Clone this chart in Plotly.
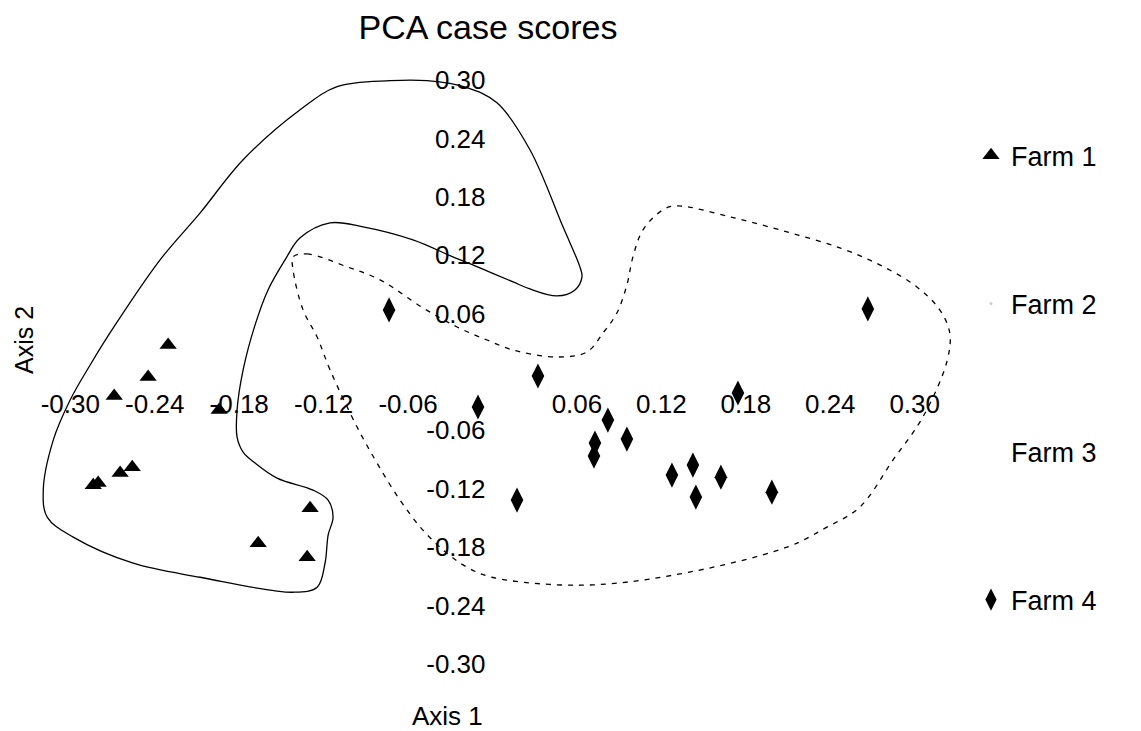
import plotly.graph_objects as go

# ---- data (PCA case scores) ----
farm1_x = [-0.2305, -0.2447, -0.2688, -0.1942, -0.2837, -0.2802, -0.2646, -0.2560, -0.1296, -0.1665, -0.1317]
farm1_y = [0.0278, -0.0051, -0.0247, -0.0391, -0.1163, -0.1142, -0.1039, -0.0978, -0.1400, -0.1760, -0.1904]

farm4_x = [-0.0735, -0.0103, 0.0323, 0.0820, 0.0728, 0.0721, 0.0955, 0.1275, 0.1424, 0.1445, 0.1623, 0.1985, 0.0174, 0.1744, 0.2667]
farm4_y = [0.0638, -0.0360, -0.0041, -0.0494, -0.0731, -0.0864, -0.0690, -0.1060, -0.0957, -0.1286, -0.1081, -0.1235, -0.1317, -0.0216, 0.0648]

# hand-drawn group outlines (axis units)
solid_x = [-0.1154, -0.1367, -0.1474, -0.1595, -0.1687, -0.1772, -0.1815, -0.1815, -0.1772, -0.1687, -0.1531,
           -0.1275, -0.1168, -0.1133, -0.1168, -0.1190, -0.1246, -0.1417, -0.2077, -0.2553, -0.2979, -0.3164,
           -0.3192, -0.3121, -0.3001, -0.2859, -0.2695, -0.2362, -0.2077, -0.1772, -0.1367, -0.1104, -0.0728,
           -0.0465, -0.0181, 0.0032, 0.0266, 0.0501, 0.0621, 0.0636, 0.0586, 0.0458, 0.0266, 0.0146, -0.0089,
           -0.0281, -0.0565, -0.0920, -0.1154]
solid_y = [0.1533, 0.1379, 0.1153, 0.0844, 0.0484, 0.0021, -0.0391, -0.0669, -0.0823, -0.0936, -0.1091,
           -0.1214, -0.1317, -0.1492, -0.1677, -0.1966, -0.2213, -0.2264, -0.2110, -0.1966, -0.1698, -0.1492,
           -0.1214, -0.0700, -0.0288, 0.0072, 0.0453, 0.1153, 0.1636, 0.2182, 0.2696, 0.2933, 0.2995,
           0.2995, 0.2923, 0.2768, 0.2285, 0.1492, 0.1081, 0.0978, 0.0844, 0.0782, 0.0854, 0.0926, 0.1070,
           0.1183, 0.1358, 0.1492, 0.1533]

dash_x = [-0.1417, -0.1317, -0.1033, -0.0799, -0.0494, -0.0252, -0.0039, 0.0146, 0.0458, 0.0671, 0.0785,
          0.0884, 0.0955, 0.0998, 0.1069, 0.1211, 0.1310, 0.1687, 0.2092, 0.2468, 0.2752, 0.3015, 0.3178,
          0.3249, 0.3228, 0.3058, 0.2845, 0.2610, 0.2376, 0.2092, 0.1282, 0.0621, -0.0004, -0.0181, -0.0323,
          -0.0494, -0.0657, -0.0820, -0.0962, -0.1154, -0.1246, -0.1346, -0.1417, -0.1417]
dash_y = [0.1183, 0.1214, 0.1081, 0.0947, 0.0659, 0.0463, 0.0329, 0.0226, 0.0154, 0.0206, 0.0401,
          0.0607, 0.0895, 0.1183, 0.1461, 0.1667, 0.1708, 0.1595, 0.1441, 0.1276, 0.1101, 0.0875, 0.0638,
          0.0401, 0.0103, -0.0463, -0.0906, -0.1389, -0.1595, -0.1801, -0.2089, -0.2192, -0.2110, -0.2007, -0.1863,
          -0.1626, -0.1317, -0.0937, -0.0566, 0.0021, 0.0360, 0.0638, 0.1050, 0.1183]

tick_vals = [-0.30, -0.24, -0.18, -0.12, -0.06, 0.06, 0.12, 0.18, 0.24, 0.30]
tick_text = ["-0.30", "-0.24", "-0.18", "-0.12", "-0.06", "0.06", "0.12", "0.18", "0.24", "0.30"]

FONT = "Arial, Liberation Sans, Helvetica, sans-serif"

# page body has an 8px default margin, so the figure is sized to fit the window
W, H = 1133, 723
L, R, T, B = 6, 170, 43, 38
OFF = 8  # page offset of the figure

fig = go.Figure()

fig.add_trace(go.Scatter(x=solid_x, y=solid_y, mode="lines", showlegend=False, hoverinfo="skip",
                         line=dict(color="black", width=1.3, shape="spline", smoothing=1.0)))
fig.add_trace(go.Scatter(x=dash_x, y=dash_y, mode="lines", showlegend=False, hoverinfo="skip",
                         line=dict(color="black", width=1.3, shape="spline", smoothing=1.0, dash="5px,6px")))

fig.add_trace(go.Scatter(x=farm1_x, y=farm1_y, mode="markers", name="Farm 1", legendgroup="g1",
                         marker=dict(symbol="triangle-up", size=15, color="black")))
fig.add_trace(go.Scatter(x=[None], y=[None], mode="markers", name="Farm 2", legendgroup="g2",
                         marker=dict(symbol="circle", size=3, color="#cccccc")))
fig.add_trace(go.Scatter(x=[None], y=[None], mode="markers", name="Farm 3", legendgroup="g3",
                         marker=dict(symbol="circle", size=3, color="rgba(0,0,0,0)")))
fig.add_trace(go.Scatter(x=farm4_x, y=farm4_y, mode="markers", name="Farm 4", legendgroup="g4",
                         marker=dict(symbol="diamond-tall", size=18, color="black")))

axis_common = dict(showgrid=False, zeroline=False, showline=False, ticks="",
                   tickvals=tick_vals, ticktext=tick_text,
                   tickfont=dict(family=FONT, size=26, color="black"),
                   anchor="free", position=0.5)

pw, ph = W - L - R, H - T - B


def px_to_paper(px, py):
    return (px - OFF - L) / pw, (H - B - (py - OFF)) / ph


ax1 = px_to_paper(447, 716)
ax2 = px_to_paper(24, 340)

fig.update_layout(
    width=W, height=H,
    margin=dict(l=L, r=R, t=T, b=B),
    paper_bgcolor="white", plot_bgcolor="white",
    font=dict(family=FONT, color="black"),
    title=dict(text="PCA case scores", x=(488 - OFF) / W, xanchor="center", xref="container",
               y=1 - (27 - OFF) / H, yanchor="middle", yref="container",
               font=dict(family=FONT, size=34, color="black")),
    xaxis=dict(range=[-0.34, 0.34], ticklabelstandoff=14, **axis_common),
    yaxis=dict(range=[-0.33, 0.33], ticklabelstandoff=7, **axis_common),
    legend=dict(x=1.0, xanchor="left", y=0.875, yanchor="top",
                font=dict(family=FONT, size=27, color="black"),
                tracegroupgap=110, bgcolor="rgba(0,0,0,0)", itemsizing="trace"),
    showlegend=True,
    annotations=[
        dict(text="Axis 1", x=ax1[0], y=ax1[1], xref="paper", yref="paper", showarrow=False,
             xanchor="center", yanchor="middle",
             font=dict(family=FONT, size=26, color="black")),
        dict(text="Axis 2", x=ax2[0], y=ax2[1], xref="paper", yref="paper", showarrow=False,
             xanchor="center", yanchor="middle", textangle=-90,
             font=dict(family=FONT, size=25, color="black")),
    ],
)

fig.write_html("out.html")
